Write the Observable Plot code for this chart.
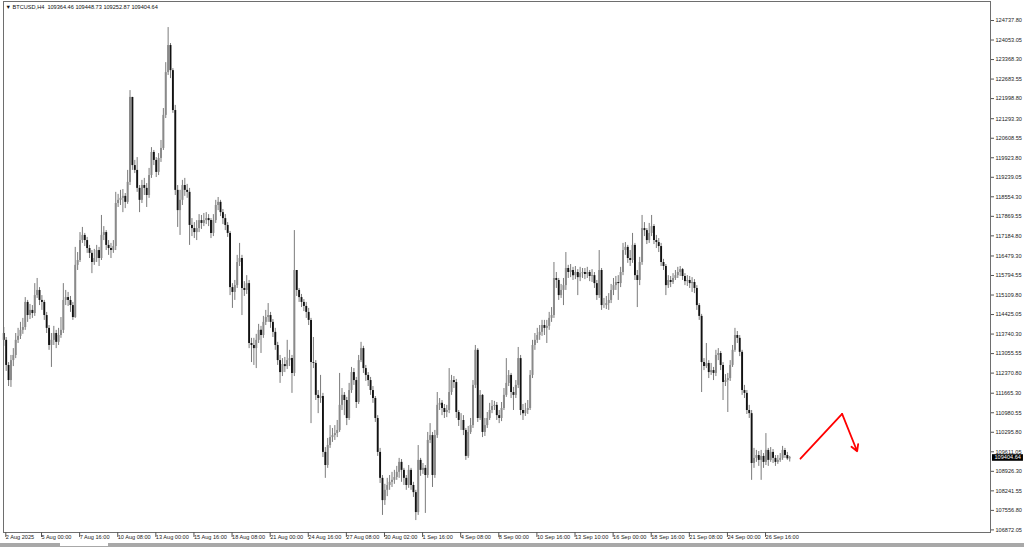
<!DOCTYPE html>
<html><head><meta charset="utf-8">
<script src="https://cdn.jsdelivr.net/npm/d3@7"></script>
<script src="https://cdn.jsdelivr.net/npm/@observablehq/plot@0.6"></script>
<style>
html,body{margin:0;padding:0;background:#fff;overflow:hidden}
#chart svg{display:block}
#tabs{position:relative;height:4px;background:#a8a8a8;width:1024px}
#tabs .tab{position:absolute;left:60px;width:48px;top:0;height:3px;background:#fff}
</style></head><body><div id="chart"></div><div id="tabs"><div class="tab"></div></div>
<script>
const symbolInfo = "\u25BC BTCUSD,H4  109364.46 109448.73 109252.87 109404.64";
const lastPrice = 109404.64;
const firstOpen = 113.76; // thousands
const closeK = [
113.52,112.64,112.11,112.81,112.99,113.52,113.66,113.87,113.97,114.85,
114.39,114.57,114.46,115.09,115.27,114.92,114.85,114.39,113.94,113.34,
113.52,113.76,113.45,113.69,113.87,114.92,115.02,114.92,114.74,114.32,
116.15,116.32,117.02,117.20,117.02,116.74,116.57,116.25,116.39,116.67,
116.39,117.20,117.30,116.85,116.74,116.67,116.81,118.32,118.43,118.50,
118.57,118.36,119.06,122.04,119.65,119.48,118.85,118.43,118.95,118.85,
118.60,119.30,120.11,119.83,119.41,119.90,120.25,121.41,122.91,123.86,
122.98,121.58,118.78,118.07,118.43,118.95,118.78,118.71,117.55,117.44,
117.30,117.44,117.72,117.62,117.72,117.79,117.72,117.27,117.72,118.25,
118.36,118.00,117.79,117.55,117.27,115.37,115.20,115.44,116.25,116.39,
115.34,115.27,115.51,113.41,113.34,113.23,113.52,113.87,113.69,114.15,
114.32,114.39,114.15,113.80,113.34,112.81,112.39,112.67,112.60,112.81,
112.88,112.36,115.97,115.27,115.02,114.85,114.71,114.50,114.22,112.74,
112.71,111.59,111.48,111.55,109.59,109.13,109.83,110.11,110.18,110.25,
110.36,111.24,111.59,111.41,110.78,111.76,112.39,112.11,111.34,112.81,
113.23,112.53,112.29,112.11,111.76,111.48,110.78,109.59,108.68,107.90,
108.26,108.43,108.54,108.61,108.71,108.89,109.24,108.96,108.68,108.43,
108.96,108.43,108.18,107.48,109.31,108.96,109.03,108.78,110.01,110.18,
108.78,110.18,111.24,111.31,111.13,110.99,111.06,111.69,112.11,112.04,
110.99,110.71,110.71,110.36,109.45,110.29,110.53,111.94,113.17,110.78,
111.59,110.29,110.53,110.78,111.06,111.20,111.24,110.88,110.78,111.13,
111.59,112.01,112.29,111.69,111.59,111.94,112.88,111.06,110.95,111.06,
111.13,112.29,113.34,113.52,113.69,113.80,114.04,113.94,114.01,114.29,
114.39,115.69,115.62,115.09,115.27,115.44,116.04,115.90,115.97,115.79,
115.90,115.72,115.86,115.90,115.83,115.90,115.76,115.79,115.51,115.09,
115.97,114.74,114.74,114.81,114.92,115.27,115.44,115.55,115.51,115.90,
116.67,116.78,116.39,116.32,116.85,115.79,115.62,116.25,117.44,117.37,
117.02,117.27,117.51,117.02,116.95,116.81,116.25,116.11,115.44,115.62,
115.55,115.69,115.79,115.90,116.00,115.76,115.58,115.62,115.51,115.55,
115.34,114.74,114.36,112.74,112.60,112.71,112.39,112.46,112.36,112.99,
113.06,112.64,112.04,112.11,112.18,112.64,113.17,113.69,113.59,113.10,
111.76,111.66,111.06,110.95,109.20,109.38,109.48,109.31,109.45,109.24,
109.66,109.31,109.59,109.38,109.24,109.31,109.38,109.66,109.48,109.36446,
109.40464];
const highK = [
113.97,113.62,112.74,112.99,113.23,113.76,113.94,114.15,114.29,115.02,
114.92,114.78,114.74,115.51,115.69,115.37,115.09,114.92,114.50,114.04,
113.76,114.01,113.87,113.94,114.32,115.51,115.27,115.20,115.06,114.85,
116.78,116.60,117.30,117.48,117.27,117.13,116.85,116.67,116.71,116.85,
116.78,117.90,117.51,117.37,117.02,116.92,117.02,118.71,118.64,118.78,
118.81,118.67,119.48,122.28,121.93,119.83,119.93,118.95,119.13,119.20,
119.02,119.55,120.28,120.18,119.93,120.07,120.53,121.65,123.26,124.49,
123.93,123.05,121.76,118.95,118.78,119.13,119.20,118.99,118.85,117.79,
117.65,117.72,117.93,117.90,117.97,118.00,117.93,117.79,117.93,118.43,
118.53,118.43,118.11,117.93,117.65,117.34,115.51,115.62,116.50,116.92,
116.50,115.58,115.79,115.62,113.59,113.59,113.73,114.08,114.01,114.36,
114.57,114.81,114.50,114.25,113.94,113.45,112.99,112.88,112.92,113.52,
113.17,112.99,117.37,115.69,115.34,115.13,114.95,114.85,114.64,114.29,
113.62,112.81,111.76,112.29,111.66,109.76,110.08,110.53,110.43,110.53,
110.71,112.36,111.83,111.69,111.52,112.01,112.57,112.53,112.22,112.99,
113.45,113.31,112.64,112.39,112.22,111.90,111.55,110.88,109.73,108.78,
108.47,108.68,108.78,108.89,108.96,109.10,109.38,109.34,109.03,108.78,
109.13,109.03,108.54,108.26,109.83,109.38,109.20,109.13,110.29,110.60,
110.29,110.36,111.69,111.48,111.41,111.27,111.24,112.53,112.29,112.25,
112.15,111.06,110.95,110.88,110.43,110.50,110.78,112.11,113.34,113.23,
111.76,111.62,110.78,110.99,111.31,111.41,111.38,111.34,111.06,111.34,
111.83,112.88,112.46,112.36,111.87,112.11,113.27,112.99,111.27,111.31,
111.41,112.46,113.52,113.76,113.94,114.04,114.22,114.22,114.22,114.50,
114.67,116.25,115.90,115.69,115.48,115.69,116.60,116.15,116.18,116.08,
116.11,116.00,116.08,116.04,116.04,116.08,115.97,116.00,115.90,115.62,
116.67,116.04,114.99,115.06,115.16,115.48,115.69,115.76,115.79,116.08,
116.92,116.95,116.85,116.67,117.27,116.92,115.97,116.43,117.90,117.65,
117.44,117.62,117.90,117.58,117.20,117.09,116.92,116.36,116.18,115.79,
115.76,115.86,115.97,116.08,116.11,116.04,115.86,115.79,115.76,115.72,
115.65,115.44,114.81,114.43,112.88,113.41,112.81,112.71,112.57,113.17,
113.23,113.13,112.74,112.32,112.36,112.81,113.34,113.94,113.83,113.69,
113.17,111.94,111.76,111.24,111.06,109.73,109.66,109.62,109.66,109.55,
110.25,109.73,109.76,109.69,109.48,109.48,109.55,109.80,109.73,109.59,
109.44873];
const lowK = [
113.31,112.43,111.90,111.87,112.60,112.88,113.41,113.55,113.73,113.87,
114.15,114.25,114.29,114.36,114.99,114.74,114.57,114.22,113.76,113.17,
112.57,113.34,113.23,113.34,113.59,113.76,114.74,114.71,114.50,114.22,
114.29,115.97,116.25,116.92,116.81,116.57,116.39,115.86,116.15,116.25,
116.11,116.32,117.02,116.67,116.50,116.39,116.57,116.67,118.18,118.25,
118.00,118.14,118.29,118.95,119.48,119.37,118.71,118.00,118.32,118.60,
118.18,118.50,119.20,119.65,119.23,119.30,119.76,120.18,121.30,122.81,
122.70,121.48,118.60,117.48,117.20,118.25,118.57,118.50,116.85,117.16,
117.09,117.02,117.30,117.41,117.51,117.58,117.51,117.09,117.16,117.62,
118.07,117.86,117.58,117.37,117.13,115.09,114.64,114.92,115.34,116.11,
114.39,115.06,115.13,113.23,112.74,112.64,112.53,113.41,113.06,113.59,
114.04,114.15,113.94,113.62,113.17,112.64,112.01,112.25,112.39,112.50,
112.60,111.66,112.25,115.06,114.85,114.67,114.53,114.29,114.04,110.60,
112.53,111.41,110.95,111.31,109.41,108.68,109.03,109.73,109.94,110.01,
110.11,110.29,111.06,110.88,110.53,110.71,111.66,111.94,111.13,111.27,
112.74,112.36,112.08,111.90,111.59,111.31,110.64,109.45,108.50,107.38,
107.73,108.04,108.26,108.36,108.47,108.61,108.68,108.54,108.43,108.26,
108.33,108.26,108.01,107.20,107.38,108.75,108.82,107.45,108.68,109.90,
108.36,108.68,110.08,111.06,110.88,110.78,110.81,110.95,111.59,111.83,
110.78,110.50,110.36,110.18,109.31,109.38,110.22,110.43,111.83,110.64,
110.71,110.11,110.15,110.43,110.71,110.95,111.06,110.71,110.60,110.67,
111.06,111.52,111.90,111.48,111.06,111.48,111.83,110.88,110.71,110.85,
110.92,111.06,112.18,113.17,113.41,113.52,113.66,113.69,113.41,113.87,
114.15,114.29,115.34,114.92,114.99,114.74,115.27,115.69,115.72,115.62,
115.65,115.09,115.58,115.69,115.65,115.69,115.58,115.55,115.34,114.92,
114.99,114.57,114.64,114.60,114.57,114.81,115.09,115.27,114.92,115.37,
115.79,116.50,116.22,116.11,116.22,115.62,114.67,115.44,116.15,117.16,
116.88,116.92,117.16,116.88,116.74,116.60,116.11,115.97,115.09,115.34,
115.37,115.48,115.62,115.69,115.76,115.62,115.44,115.41,115.34,115.20,
115.16,114.57,114.22,111.69,112.46,112.53,112.18,112.29,112.11,112.25,
112.81,112.46,111.41,111.90,110.99,112.08,112.57,113.10,113.41,112.95,
111.59,111.48,110.92,110.78,108.61,109.03,109.24,109.10,108.61,109.03,
109.13,109.10,109.24,109.20,109.10,109.17,109.24,109.31,109.38,109.31,
109.25287];
const priceTicks = [124737.80,124053.05,123368.30,122683.55,121998.80,121293.30,120608.55,
  119923.80,119239.05,118554.30,117869.55,117184.80,116479.30,115794.55,115109.80,114425.05,
  113740.30,113055.55,112370.80,111665.30,110980.55,110295.80,109611.05,108926.30,108241.55,
  107556.80,106872.05];
const timeTickBars = [0,15,31,47,63,79,95,111,127,143,159,175,191,207,223,239,255,271,287,303,319];
const timeTickLabels = ["2 Aug 2025","5 Aug 00:00","7 Aug 16:00","10 Aug 08:00","13 Aug 00:00",
  "15 Aug 16:00","18 Aug 08:00","21 Aug 00:00","24 Aug 16:00","27 Aug 08:00","30 Aug 02:00",
  "1 Sep 16:00","4 Sep 08:00","8 Sep 00:00","10 Sep 16:00","13 Sep 10:00","16 Sep 00:00",
  "18 Sep 16:00","21 Sep 08:00","24 Sep 00:00","26 Sep 16:00"];
const arrowBars = [334.5, 352.0, 358.3];
const arrowPrices = [109370, 110940, 109630];

const n = Math.min(closeK.length, highK.length, lowK.length);
const bars = [];
for (let i = 0; i < n; i++) {
  const o = (i ? closeK[i-1] : firstOpen) * 1000, c = closeK[i] * 1000;
  bars.push({i, o, c, h: Math.max(highK[i]*1000, o, c), l: Math.min(lowK[i]*1000, o, c)});
}
const up = bars.filter(d => d.c >= d.o), down = bars.filter(d => d.c < d.o);
const labelOf = new Map(timeTickBars.map((b, k) => [b, timeTickLabels[k]]));
const arrowPts = arrowBars.map((b, k) => ({x: b, y: arrowPrices[k]}));
const font = "'Liberation Sans', Arial, sans-serif";

const chart = Plot.plot({
  width: 1024, height: 543,
  marginLeft: 3, marginRight: 34, marginTop: 1, marginBottom: 11,
  style: {fontFamily: font, fontSize: "5.6px", background: "#fff", color: "#000"},
  x: {type: "linear", domain: [-0.126, 414.3], axis: null},
  y: {type: "linear", domain: [106780.9, 125404.2], axis: null},
  marks: [
    Plot.ruleX(bars, {x: "i", y1: "l", y2: "h", stroke: "#6c6c6c", strokeWidth: 0.9}),
    Plot.ruleX(up, {x: "i", y1: "o", y2: "c", stroke: "#8a8a8a", strokeWidth: 2}),
    Plot.ruleX(down, {x: "i", y1: "o", y2: "c", stroke: "#121212", strokeWidth: 1.9}),
    Plot.line(arrowPts.slice(0, 2), {x: "x", y: "y", stroke: "#ff0000", strokeWidth: 1.8}),
    Plot.arrow([{x1: arrowPts[1].x, y1: arrowPts[1].y, x2: arrowPts[2].x, y2: arrowPts[2].y}],
      {x1: "x1", y1: "y1", x2: "x2", y2: "y2", stroke: "#ff0000", strokeWidth: 1.8, headLength: 6}),
    Plot.frame({stroke: "#6e6e6e", strokeWidth: 1}),
    Plot.axisY(priceTicks, {anchor: "right", tickSize: 3, tickPadding: 2, stroke: "#555",
      tickFormat: d => d.toFixed(2), fontSize: 5.6, fill: "#222"}),
    Plot.axisX(timeTickBars, {anchor: "bottom", tickSize: 5, tickPadding: -2, stroke: "#555",
      textAnchor: "start", dx: 2, tickFormat: d => labelOf.get(d), fontSize: 5.6, fill: "#222"}),
    Plot.text([symbolInfo], {frameAnchor: "top-left", dx: 2, dy: 4, textAnchor: "start",
      lineAnchor: "top", fontSize: 5.6, fill: "#111"}),
    Plot.text([lastPrice], {y: d => d, frameAnchor: "right", dx: 4, textAnchor: "start",
      text: d => d.toFixed(2), fill: "#fff", fontSize: 5.6, className: "price-tag"})
  ]
});
document.getElementById("chart").appendChild(chart);
// black background box behind the current-price tag
chart.querySelectorAll(".price-tag text, text.price-tag").forEach(t => {
  const b = t.getBBox();
  const r = document.createElementNS("http://www.w3.org/2000/svg", "rect");
  r.setAttribute("x", b.x - 2.5); r.setAttribute("y", b.y - 0.3);
  r.setAttribute("width", b.width + 4.5); r.setAttribute("height", b.height + 0.6);
  r.setAttribute("fill", "#000");
  if (t.getAttribute("transform")) r.setAttribute("transform", t.getAttribute("transform"));
  t.parentNode.insertBefore(r, t);
});
</script></body></html>
